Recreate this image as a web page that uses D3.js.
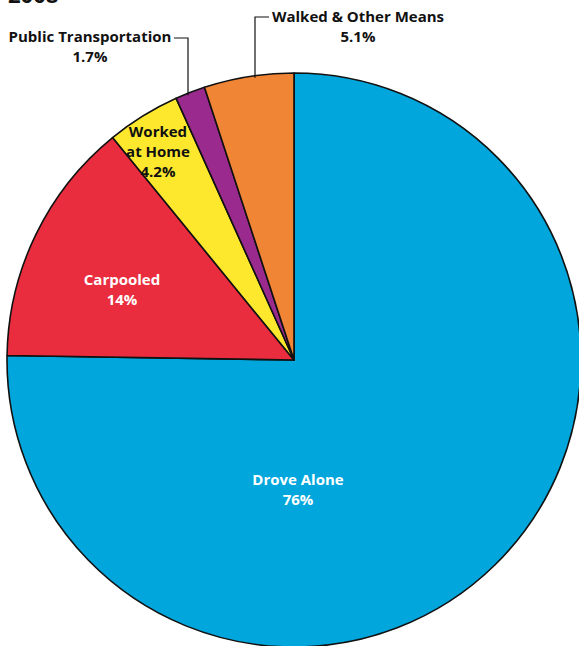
<!DOCTYPE html>
<html>
<head>
<meta charset="utf-8">
<script src="https://cdn.jsdelivr.net/npm/d3@7"></script>
<style>
  html, body { margin: 0; padding: 0; background: #fff; }
  svg { display: block; }
  text { font-family: "Open Sans", "Noto Sans", sans-serif; font-weight: 700; }
</style>
</head>
<body>
<svg id="chart" width="579" height="646"></svg>
<script>
// Commute mode shares, clockwise from 12 o'clock
const categories = ["Drove Alone", "Carpooled", "Worked at Home", "Public Transportation", "Walked & Other Means"];
const shares = [76, 14, 4.2, 1.7, 5.1];
const valueLabels = ["76%", "14%", "4.2%", "1.7%", "5.1%"];
const colors = ["#00a6dc", "#e92d3e", "#fde82e", "#9b2a8e", "#f08536"];
const title = "2008";

const svg = d3.select("#chart");
const cx = 294, cy = 360, radius = 287;

svg.append("text")
  .attr("x", 8).attr("y", 3)
  .attr("font-size", 22)
  .attr("fill", "#111")
  .text(title);

const pie = d3.pie().sort(null).value(d => d.value);
const arc = d3.arc().innerRadius(0).outerRadius(radius);
const data = categories.map((c, i) => ({ name: c, value: shares[i], label: valueLabels[i], color: colors[i] }));
const arcs = pie(data);

const g = svg.append("g").attr("transform", `translate(${cx},${cy})`);
g.selectAll("path")
  .data(arcs)
  .join("path")
  .attr("d", arc)
  .attr("fill", d => d.data.color)
  .attr("stroke", "#111")
  .attr("stroke-width", 1.6)
  .attr("stroke-linejoin", "round");

// Label placement: text lines, anchor point, fill, and optional leader line
const placement = {
  "Drove Alone":           { lines: ["Drove Alone"], x: 298, y: 485, fill: "#fff" },
  "Carpooled":             { lines: ["Carpooled"], x: 122, y: 285, fill: "#fff" },
  "Worked at Home":        { lines: ["Worked", "at Home"], x: 158, y: 137, fill: "#111" },
  "Public Transportation": { lines: ["Public Transportation"], x: 90, y: 42, fill: "#111",
                             leader: { fromX: 174, y: 38, toX: 188, rAt: 188 } },
  "Walked & Other Means":  { lines: ["Walked & Other Means"], x: 358, y: 22, fill: "#111",
                             leader: { fromX: 269, y: 17, toX: 255, rAt: 255 } }
};

const lineH = 20;
arcs.forEach(a => {
  const p = placement[a.data.name];
  const t = svg.append("text")
    .attr("text-anchor", "middle")
    .attr("font-size", 15)
    .attr("fill", p.fill);
  const all = p.lines.concat([a.data.label]);
  all.forEach((s, i) => {
    t.append("tspan").attr("x", p.x).attr("y", p.y + i * lineH).text(s);
  });
  if (p.leader) {
    // vertical drop meets the pie's outer edge at x = rAt
    const dx = p.leader.rAt - cx;
    const yEdge = cy - Math.sqrt(radius * radius - dx * dx) + 2;
    svg.append("path")
      .attr("d", `M${p.leader.fromX},${p.leader.y}H${p.leader.toX}V${yEdge}`)
      .attr("fill", "none")
      .attr("stroke", "#111")
      .attr("stroke-width", 1.2);
  }
});
</script>
</body>
</html>
